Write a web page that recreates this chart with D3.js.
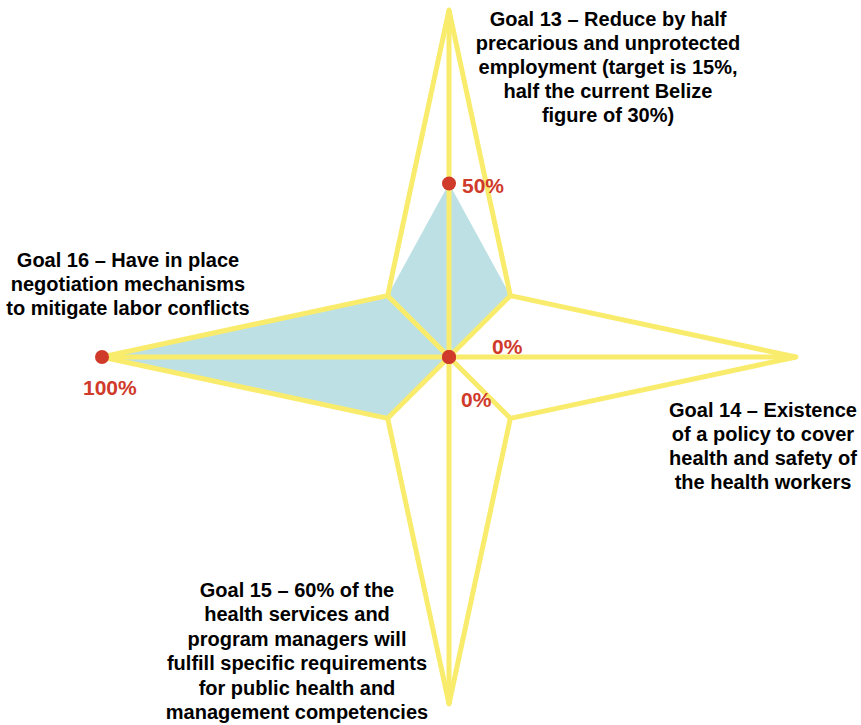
<!DOCTYPE html>
<html>
<head>
<meta charset="utf-8">
<script src="https://cdn.jsdelivr.net/npm/d3@7"></script>
<style>
  html, body { margin: 0; padding: 0; background: #ffffff; }
  svg { display: block; }
  text { font-family: "Liberation Sans", Arial, Helvetica, sans-serif; font-weight: bold; }
</style>
</head>
<body>
<svg id="chart" width="861" height="725"></svg>
<script>
// ---- Data ----
const goalNames = ["Goal 13", "Goal 14", "Goal 15", "Goal 16"];
const goalLabels = [
  ["Goal 13 – Reduce by half", "precarious and unprotected", "employment (target is 15%,", "half the current Belize", "figure of 30%)"],
  ["Goal 14 – Existence", "of a policy to cover", "health and safety of", "the health workers"],
  ["Goal 15 – 60% of the", "health services and", "program managers will", "fulfill specific requirements", "for public health and", "management competencies"],
  ["Goal 16 – Have in place", "negotiation mechanisms", "to mitigate labor conflicts"]
];
const goalValues = [50, 0, 0, 100];          // achieved (%)
const valueLabels = ["50%", "0%", "0%", "100%"];
const goalMax = [100, 100, 100, 100];        // star outer points
const diagMax = [25, 25, 25, 25];            // star inner points (NE, SE, SW, NW)
const diagValues = [25, 0, 25, 25];          // filled shape inner points (NE, SE, SW, NW)
const scaleDomain = [0, 100];

// ---- Layout ----
const svg = d3.select("#chart");
const cx = 449, cy = 357;
const r = d3.scaleLinear().domain(scaleDomain).range([0, 347]);
const angle = i => i * Math.PI / 4;

const YELLOW = "#f9ec6c", BLUE = "#bde0e4", RED = "#cf3a2b";

function interleave(main, diag) {
  const out = [];
  for (let i = 0; i < main.length; i++) { out.push(main[i]); out.push(diag[i]); }
  return out;
}
const starVals = interleave(goalMax, diagMax);
const dataVals = interleave(goalValues, diagValues);

const radial = d3.lineRadial()
  .angle((d, i) => angle(i))
  .radius(d => r(d))
  .curve(d3.curveLinearClosed);

const g = svg.append("g").attr("transform", `translate(${cx},${cy})`);

// filled data shape
g.append("path")
  .attr("d", radial(dataVals))
  .attr("fill", BLUE)
  .attr("stroke", "none");

// spokes
g.selectAll("line.spoke")
  .data(starVals)
  .join("line")
  .attr("class", "spoke")
  .attr("x1", 0).attr("y1", 0)
  .attr("x2", (d, i) => r(d) * Math.sin(angle(i)))
  .attr("y2", (d, i) => -r(d) * Math.cos(angle(i)))
  .attr("stroke", YELLOW)
  .attr("stroke-width", 5);

// star outline
g.append("path")
  .attr("d", radial(starVals))
  .attr("fill", "none")
  .attr("stroke", YELLOW)
  .attr("stroke-width", 5)
  .attr("stroke-linejoin", "round");

// dots
const pt = (v, i) => [r(v) * Math.sin(angle(i * 2)), -r(v) * Math.cos(angle(i * 2))];
g.selectAll("circle.dot")
  .data(goalValues)
  .join("circle")
  .attr("class", "dot")
  .attr("cx", (d, i) => pt(d, i)[0])
  .attr("cy", (d, i) => pt(d, i)[1])
  .attr("r", 7)
  .attr("fill", RED);

// value labels (offsets relative to the point)
const valueOffsets = [[13, 9], [43, -3], [12, 50], [-19, 38]];
g.selectAll("text.val")
  .data(goalValues)
  .join("text")
  .attr("class", "val")
  .attr("x", (d, i) => pt(d, i)[0] + valueOffsets[i][0])
  .attr("y", (d, i) => pt(d, i)[1] + valueOffsets[i][1])
  .attr("fill", RED)
  .attr("font-size", 21)
  .text((d, i) => valueLabels[i]);

// goal labels (block positions)
const labelPos = [
  { x: 608, y: 26, lh: 24 },
  { x: 763, y: 417, lh: 24 },
  { x: 297, y: 597, lh: 24.4 },
  { x: 128, y: 267, lh: 24 }
];
goalLabels.forEach((lines, i) => {
  const t = svg.append("text")
    .attr("text-anchor", "middle")
    .attr("font-size", 20)
    .attr("fill", "#000");
  lines.forEach((ln, j) => {
    t.append("tspan")
      .attr("x", labelPos[i].x)
      .attr("y", labelPos[i].y + j * labelPos[i].lh)
      .text(ln);
  });
});
</script>
</body>
</html>
